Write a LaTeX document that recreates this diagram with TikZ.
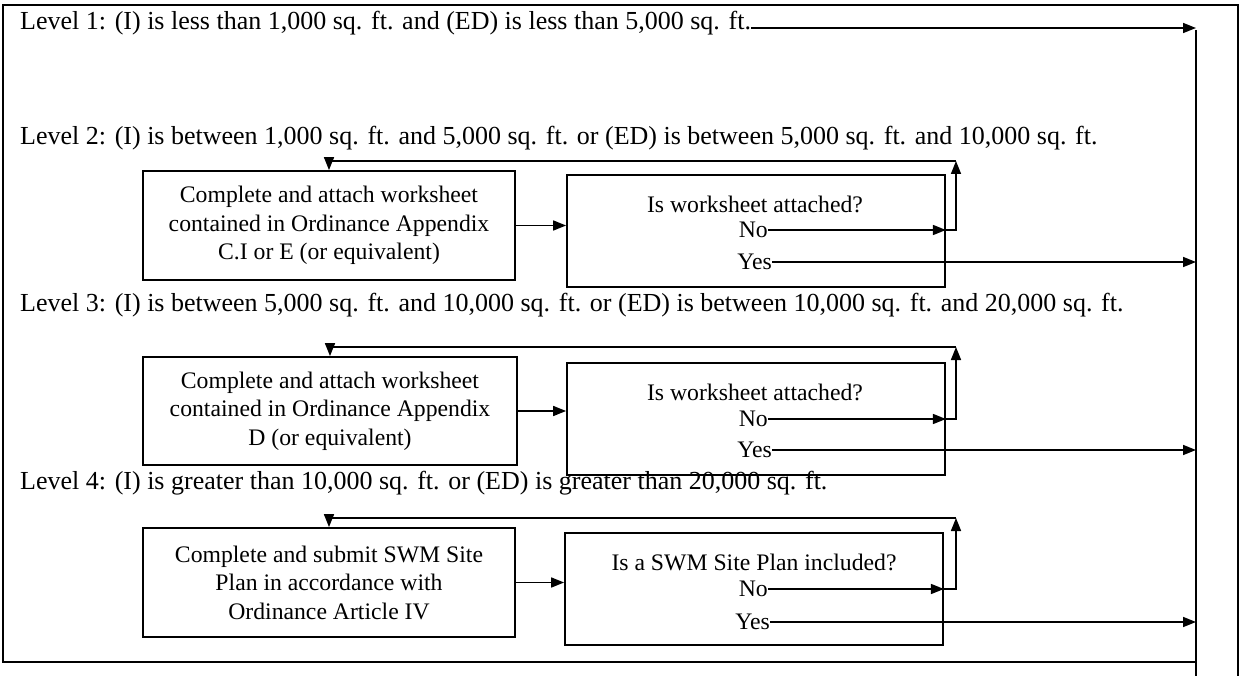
\documentclass[tikz,border=0pt]{standalone}
\usepackage{fontspec}
\setmainfont{Liberation Serif}
\usetikzlibrary{arrows.meta}
\begin{document}
\begin{tikzpicture}[x=1pt,y=-1pt,
  every node/.style={inner sep=0pt},
  lvl/.style={anchor=west, font=\fontsize{26}{28}\selectfont},
  boxA/.style={draw, line width=1.8pt, align=center, font=\fontsize{23.7}{28.5}\selectfont},
  boxB/.style={draw, line width=1.8pt},
  lab/.style={font=\fontsize{23.7}{28}\selectfont},
  conn/.style={line width=1.6pt},
  arr/.style={line width=1.6pt, -{Triangle[length=13pt,width=10pt]}},
]
\useasboundingbox (0,0) rectangle (1249,676);
% frame
\draw[line width=1.8pt] (1196,662) -- (3,662) -- (3,5) -- (1238,5) -- (1238,676);
\coordinate (railtop) at (1196,30);
\coordinate (railbot) at (1196,676);
\draw[conn] (railtop) -- (railbot);

% level texts
\node[lvl] (L1) at (20,23) {Level 1: (I) is less than 1,000 sq. ft. and (ED) is less than 5,000 sq. ft.};
\node[lvl] (L2) at (20,138) {Level 2: (I) is between 1,000 sq. ft. and 5,000 sq. ft. or (ED) is between 5,000 sq. ft. and 10,000 sq. ft.};
\node[lvl] (L3) at (20,305) {Level 3: (I) is between 5,000 sq. ft. and 10,000 sq. ft. or (ED) is between 10,000 sq. ft. and 20,000 sq. ft.};
\node[lvl] (L4) at (20,483) {Level 4: (I) is greater than 10,000 sq. ft. or (ED) is greater than 20,000 sq. ft.};

\draw[arr] ([yshift=-5pt]L1.east) -- ([yshift=-5pt]L1.east -| railtop);

% Level 2 boxes
\node[boxA, minimum width=372pt, minimum height=109pt] (A2) at (329,225.5)
  {Complete and attach worksheet\\contained in Ordinance Appendix\\C.I or E (or equivalent)};
\node[boxB, minimum width=378pt, minimum height=112pt] (B2) at (756,231) {};
\node[lab] (Q2) at (755,204) {Is worksheet attached?};
\node[lab, anchor=east] (N2) at (768,230) {No};
\node[lab, anchor=east] (Y2) at (772,262) {Yes};
\coordinate (F2) at (956,161);
\draw[arr] (A2.east) -- (A2.east -| B2.west);
\draw[arr] (N2.east) -- (N2.east -| B2.east);
\draw[arr] (N2.east -| B2.east) -- (N2.east -| F2) -- (F2);
\draw[arr] (F2) -- (F2 -| A2.north) -- (A2.north);
\draw[arr] (Y2.east) -- (Y2.east -| railbot);

% Level 3 boxes
\node[boxA, minimum width=374pt, minimum height=108pt] (A3) at (330,411)
  {Complete and attach worksheet\\contained in Ordinance Appendix\\D (or equivalent)};
\node[boxB, minimum width=378pt, minimum height=112pt] (B3) at (756,419) {};
\node[lab] (Q3) at (755,392) {Is worksheet attached?};
\node[lab, anchor=east] (N3) at (768,419) {No};
\node[lab, anchor=east] (Y3) at (772,450) {Yes};
\coordinate (F3) at (956,347);
\draw[arr] (A3.east) -- (A3.east -| B3.west);
\draw[arr] (N3.east) -- (N3.east -| B3.east);
\draw[arr] (N3.east -| B3.east) -- (N3.east -| F3) -- (F3);
\draw[arr] (F3) -- (F3 -| A3.north) -- (A3.north);
\draw[arr] (Y3.east) -- (Y3.east -| railbot);

% Level 4 boxes
\node[boxA, minimum width=372pt, minimum height=109pt] (A4) at (329,582.5)
  {Complete and submit SWM Site\\Plan in accordance with\\Ordinance Article IV};
\node[boxB, minimum width=378pt, minimum height=112pt] (B4) at (754,589) {};
\node[lab] (Q4) at (754,562) {Is a SWM Site Plan included?};
\node[lab, anchor=east] (N4) at (768,589) {No};
\node[lab, anchor=east] (Y4) at (770,622) {Yes};
\coordinate (F4) at (956,518);
\draw[arr] (A4.east) -- (A4.east -| B4.west);
\draw[arr] (N4.east) -- (N4.east -| B4.east);
\draw[arr] (N4.east -| B4.east) -- (N4.east -| F4) -- (F4);
\draw[arr] (F4) -- (F4 -| A4.north) -- (A4.north);
\draw[arr] (Y4.east) -- (Y4.east -| railbot);
\end{tikzpicture}
\end{document}
